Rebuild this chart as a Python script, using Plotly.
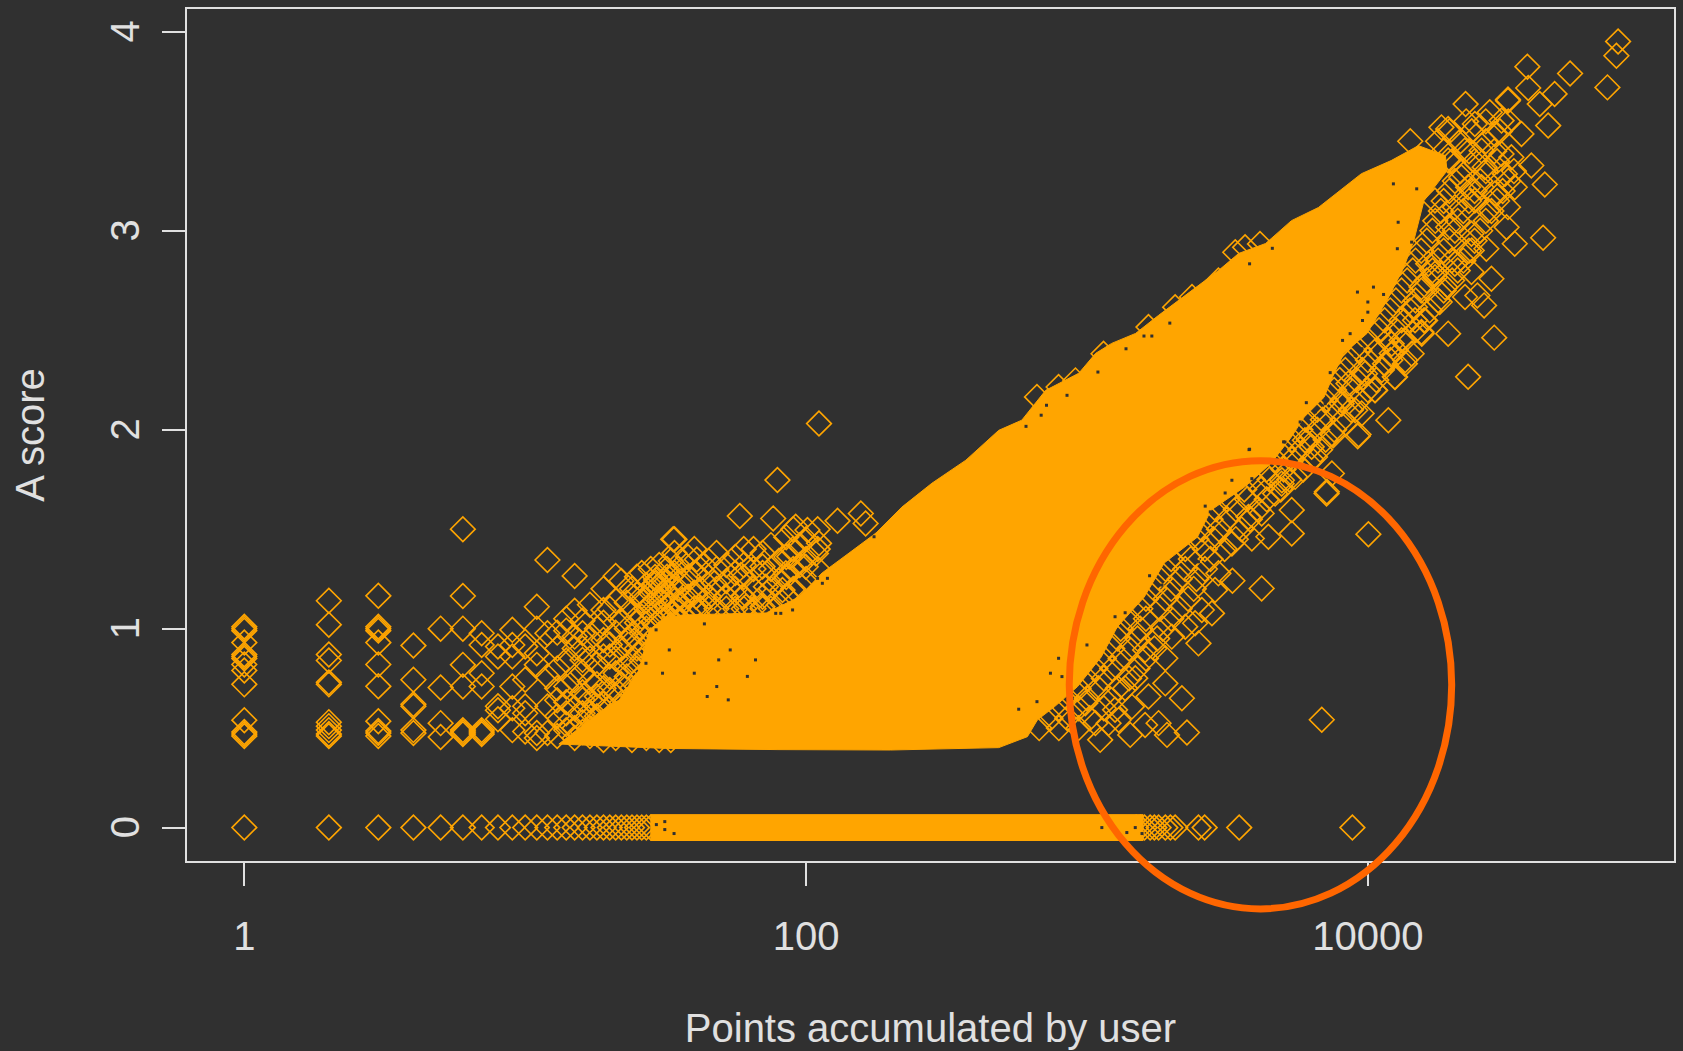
import plotly.graph_objects as go

BG = "#303030"
ORANGE = "#FFA500"
INK = "#E0E0E0"
FONT = "Liberation Sans, Arial, sans-serif"

x_title = "Points accumulated by user"
y_title = "A score"
x_ticks = [1, 100, 10000]
x_tick_labels = ["1", "100", "10000"]
y_ticks = [0, 1, 2, 3, 4]
y_tick_labels = ["0\u00a0", "1\u00a0", "2\u00a0", "3\u00a0", "4\u00a0"]

# Solid cloud outline (log10 of points, score)
cloud_log10 = [1.12, 1.264, 1.335, 1.406, 1.442, 1.495, 1.563, 1.858, 1.975, 2.057, 2.153, 2.249, 2.341, 2.448,
               2.569, 2.686, 2.768, 2.853, 2.971, 3.031, 3.088, 3.173, 3.255, 3.326, 3.387, 3.468, 3.540, 3.636,
               3.728, 3.824, 3.977, 4.083, 4.180, 4.276, 4.282, 4.200, 4.164, 4.128, 4.068, 3.997, 3.915, 3.880,
               3.844, 3.773, 3.727, 3.656, 3.560, 3.442, 3.393, 3.275, 3.204, 3.108, 3.051, 2.966, 2.884, 2.824,
               2.788, 2.686, 2.300, 1.900, 1.500, 1.12]
cloud_score = [0.42, 0.58, 0.642, 0.793, 0.994, 1.054, 1.069, 1.079, 1.159, 1.280, 1.380, 1.481, 1.611, 1.731,
               1.847, 1.997, 2.048, 2.198, 2.284, 2.384, 2.434, 2.484, 2.575, 2.650, 2.715, 2.800, 2.886, 2.936,
               3.051, 3.117, 3.287, 3.353, 3.428, 3.378, 3.302, 3.152, 2.952, 2.816, 2.650, 2.484, 2.384, 2.284,
               2.163, 2.063, 1.962, 1.832, 1.711, 1.596, 1.460, 1.330, 1.159, 1.009, 0.858, 0.708, 0.607, 0.542,
               0.457, 0.402, 0.390, 0.392, 0.398, 0.42]

# Solid part of the zero row
band_points = [28, 1585, 1585, 28, 28]
band_score = [-0.065, -0.065, 0.065, 0.065, -0.065]

# Zero-score users
zero_points = [1, 2, 3, 4, 5, 6, 7, 8, 9, 10, 11, 12, 13, 14, 15, 16, 17, 18, 19, 20, 21, 22, 23, 24, 25, 26, 27, 28]
zero_tail_log10 = [3.175, 3.19, 3.205, 3.225, 3.24, 3.255, 3.279, 3.297, 3.314, 3.397, 3.419, 3.542, 3.945]

# Low-point users: whole numbers of points
low_points = [1]*14 + [2]*11 + [3]*11 + [4]*6 + [5]*4 + [6]*8 + [7]*7 + [8]*5 + [9]*6 + [10]*5 + [11]*5 + [12]*5 \
    + [13]*2 + [14]*4 + [15]*2 + [16]*5 + [17]*2 + [18]*3 + [19]*2 + [20]*3 + [21]*2 + [22]*1 + [23]*2 + [25]*2 \
    + [26]*3 + [27]*1 + [28]*1 + [29]*3 + [32]*3 + [34]*1
low_score = [1.0, 1.01, 0.99, 0.93, 0.87, 0.86, 0.85, 0.82, 0.79, 0.72, 0.54, 0.48, 0.47, 0.46,
             1.14, 1.02, 0.87, 0.84, 0.73, 0.72, 0.53, 0.51, 0.49, 0.47, 0.46,
             1.165, 1.01, 1.0, 0.99, 0.93, 0.82, 0.71, 0.535, 0.485, 0.475, 0.46,
             0.915, 0.743, 0.62, 0.61, 0.49, 0.475,
             1.0, 0.704, 0.525, 0.455,
             1.5, 1.164, 1.0, 0.818, 0.709, 0.49, 0.48, 0.47,
             0.977, 0.918, 0.776, 0.709, 0.49, 0.48, 0.47,
             0.91, 0.86, 0.61, 0.59, 0.545,
             0.994, 0.918, 0.86, 0.709, 0.6, 0.49,
             0.91, 0.743, 0.61, 0.575, 0.483,
             1.11, 1.0, 0.876, 0.818, 0.475,
             1.345, 0.977, 0.76, 0.609, 0.475,
             0.9, 0.70,
             0.99, 0.709, 0.575, 0.49,
             1.265, 0.9,
             0.977, 0.843, 0.642, 0.575, 0.48,
             0.734, 0.85,
             0.659, 0.609, 0.542,
             1.094, 0.943,
             0.86, 0.692, 0.559,
             1.265, 0.776,
             0.609,
             0.943, 0.81,
             1.261, 0.709,
             1.161, 0.977, 0.642,
             0.91,
             1.044,
             1.228, 0.843, 0.709,
             1.261, 1.11, 0.81,
             1.449]
floor_points = [11, 13, 15, 17, 19, 21, 24, 27, 30, 33]
floor_score = [0.45, 0.46, 0.45, 0.46, 0.44, 0.45, 0.44, 0.45, 0.44, 0.44]

# Crowded middle of the low range, by whole number of points
mid_points = [13]*4 + [14]*4 + [15]*5 + [16]*5 + [17]*5 + [18]*5 + [19]*6 + [20]*5 + [21]*5 + [22]*6 + [23]*5 + [24]*7 \
    + [25]*6 + [26]*6 + [27]*6 + [28]*6 + [29]*6 + [30]*6 + [31]*5 + [32]*5 + [33]*5 + [34]*5 + [35]*4 + [36]*4 \
    + [38]*4 + [40]*4 + [42]*3 + [45]*4 + [48]*4 + [52]*4 + [56]*4 + [60]*5 + [65]*4 + [70]*4 + [75]*4 + [80]*3 \
    + [85]*4 + [90]*4 + [95]*3 + [100]*3 + [110]*3
mid_score = [0.56, 0.64, 0.80, 0.98,
             0.52, 0.63, 0.84, 1.05,
             0.50, 0.60, 0.74, 0.96, 1.09,
             0.53, 0.68, 0.78, 0.90, 1.04,
             0.50, 0.58, 0.64, 0.95, 1.12,
             0.47, 0.56, 0.72, 0.82, 1.0,
             0.48, 0.62, 0.70, 0.86, 1.03, 1.2,
             0.50, 0.60, 0.76, 0.92, 1.1,
             0.52, 0.66, 0.85, 0.98, 1.14,
             0.48, 0.58, 0.72, 0.90, 1.04, 1.24,
             0.53, 0.64, 0.76, 1.0, 1.13,
             0.50, 0.60, 0.70, 0.84, 0.96, 1.08, 1.2,
             0.54, 0.64, 0.80, 0.90, 1.03, 1.17,
             0.58, 0.72, 0.84, 1.06, 1.14, 1.28,
             0.62, 0.76, 0.87, 1.0, 1.1, 1.22,
             0.68, 0.80, 0.94, 1.12, 1.18, 1.3,
             0.60, 0.74, 0.9, 1.02, 1.14, 1.26,
             0.72, 0.84, 0.96, 1.08, 1.2, 1.32,
             0.80, 0.92, 1.04, 1.16, 1.24,
             0.86, 0.98, 1.06, 1.18, 1.3,
             0.9, 1.02, 1.12, 1.22, 1.34,
             0.94, 1.06, 1.14, 1.28, 1.38,
             1.0, 1.1, 1.2, 1.3,
             1.04, 1.12, 1.24, 1.34,
             1.08, 1.16, 1.26, 1.36,
             1.1, 1.18, 1.28, 1.4,
             1.1, 1.2, 1.3,
             1.1, 1.16, 1.26, 1.34,
             1.1, 1.2, 1.3, 1.38,
             1.1, 1.16, 1.24, 1.32,
             1.1, 1.2, 1.28, 1.36,
             1.1, 1.16, 1.26, 1.32, 1.4,
             1.1, 1.2, 1.3, 1.4,
             1.1, 1.16, 1.28, 1.38,
             1.1, 1.2, 1.3, 1.42,
             1.12, 1.24, 1.34,
             1.16, 1.26, 1.36, 1.46,
             1.2, 1.3, 1.4, 1.5,
             1.22, 1.32, 1.42,
             1.25, 1.35, 1.45,
             1.3, 1.4, 1.5]

# Users around the edges of the cloud (log10 of points, score)
edge_log10 = [2.046, 1.898, 1.764, 1.883, 1.527, 1.611, 1.519, 1.673, 1.608, 1.768, 1.845, 1.963, 2.005, 2.112,
              2.195, 2.046, 1.94, 2.035, 1.928, 1.999, 1.857, 1.916, 1.774, 1.715, 1.655, 1.62, 1.786, 1.845,
              1.466, 1.478, 1.525, 1.56, 2.212,
              2.822, 3.059, 3.219, 3.314, 3.374, 3.528, 3.563, 3.616, 3.468, 2.959, 2.899]
edge_score = [2.031, 1.747, 1.566, 1.554, 1.449, 1.348, 1.261, 1.228, 1.161, 1.27, 1.312, 1.512, 1.496, 1.542,
              1.579, 1.429, 1.362, 1.378, 1.278, 1.311, 1.211, 1.194, 1.161, 1.161, 1.161, 1.11, 1.11, 1.11,
              1.245, 1.144, 1.077, 1.144, 1.529,
              2.165, 2.382, 2.516, 2.616, 2.667, 2.892, 2.917, 2.934, 2.75, 2.248, 2.215]
top_log10 = [4.891, 4.885, 4.853, 4.720, 4.568, 4.665, 4.612, 4.499, 4.499, 4.571, 4.642, 4.348, 4.434, 4.151,
             4.286, 4.381, 4.476, 4.547, 4.582, 4.63, 4.523, 4.488, 4.405, 4.345, 4.452, 4.333, 4.405, 4.357,
             4.624, 4.523, 4.494, 4.422, 4.428, 4.369, 4.31, 4.44, 4.369, 4.39, 4.414, 4.256, 4.286, 4.191,
             4.45, 4.357, 4.168, 4.239, 4.286, 4.215, 4.191, 4.096, 4.132, 4.025, 4.073, 3.978, 4.12, 4.085,
             4.239, 4.31, 4.286, 4.262, 4.416, 4.476, 4.511, 4.381, 4.452, 4.499]
top_score = [3.952, 3.88, 3.721, 3.791, 3.825, 3.688, 3.637, 3.654, 3.66, 3.718, 3.529, 3.637, 3.596, 3.450,
             3.512, 3.537, 3.554, 3.487, 3.328, 3.233, 3.219, 3.286, 3.403, 3.403, 3.487, 3.269, 3.219, 3.219,
             2.965, 2.935, 3.018, 2.910, 3.102, 2.985, 2.834, 2.759, 2.793, 2.675, 2.625, 2.642, 2.483, 2.491,
             2.463, 2.266, 2.55, 2.767, 3.018, 2.834, 2.717, 2.266, 2.332, 2.199, 2.048, 2.082, 2.45, 2.383,
             3.152, 3.119, 3.353, 3.52, 3.32, 3.386, 3.37, 3.152, 3.186, 3.119]
lower_log10 = [4.002, 3.853, 3.964, 3.877, 3.729, 3.729, 3.646, 3.587, 3.67, 3.622, 3.518, 3.445, 3.397, 3.279,
               3.279, 3.338, 3.356, 3.285, 3.255, 3.207, 3.154, 3.836, 3.047, 3.136, 3.172, 3.207, 3.077, 3.113,
               3.385, 3.456, 3.409, 3.35, 3.302, 3.1, 2.994, 3.03, 3.575, 3.468, 3.776, 3.812, 3.693, 3.622, 3.516,
               3.219, 3.16,
               3.967, 3.874, 4.026, 3.854, 4.097, 4.133, 4.192, 4.085, 3.907, 3.955, 3.80, 3.741, 3.872, 3.694,
               3.931, 3.99, 4.061, 4.156, 4.204, 4.168, 4.239, 4.299, 4.37, 4.346, 4.275]
lower_score = [1.475, 1.679, 1.967, 1.972, 1.478, 1.596, 1.462, 1.453, 1.679, 1.202, 1.241, 1.077, 0.926, 0.851,
               0.725, 0.65, 0.478, 0.466, 0.525, 0.516, 0.466, 0.542, 0.441, 0.70, 0.751, 0.893, 0.525, 0.541,
               1.027, 1.194, 1.094, 1.01, 0.96, 0.592, 0.625, 0.525, 1.562, 1.278, 1.947, 1.863, 1.729, 1.579, 1.428,
               0.659, 0.608,
               1.976, 1.977, 2.198, 1.688, 2.265, 2.349, 2.483, 2.432, 2.131, 2.098, 1.914, 1.763, 1.78, 1.746,
               2.232, 2.282, 2.332, 2.382, 2.549, 2.616, 2.784, 2.851, 2.901, 2.667, 2.717]

# Crowded fringe just outside the solid cloud: three readings per score level
fringe_score = [0.50]*3 + [0.55]*3 + [0.60]*3 + [0.65]*3 + [0.70]*3 + [0.75]*3 + [0.80]*3 + [0.85]*3 + [0.90]*3 \
    + [0.95]*3 + [1.00]*3 + [1.05]*3 + [1.10]*3 + [1.15]*3 + [1.20]*3 + [1.25]*3 + [1.30]*3 + [1.35]*3 + [1.40]*3 \
    + [1.45]*3 + [1.50]*3 + [1.55]*3 + [1.60]*3 + [1.65]*3 + [1.70]*3 + [1.75]*3 + [1.80]*3 + [1.85]*3 + [1.90]*3 \
    + [1.95]*3 + [2.00]*3 + [2.05]*3 + [2.10]*3 + [2.15]*3 + [2.20]*3 + [2.25]*3 + [2.30]*3 + [2.35]*3 + [2.40]*3 \
    + [2.45]*3 + [2.50]*3 + [2.55]*3 + [2.60]*3 + [2.65]*3 + [2.70]*3 + [2.75]*3 + [2.80]*3 + [2.85]*3 + [2.90]*3 \
    + [2.95]*3 + [3.00]*3 + [3.05]*3 + [3.10]*3 + [3.15]*3 + [3.20]*3 + [3.25]*3 + [3.30]*3 + [3.35]*3 + [3.40]*3 \
    + [3.45]*3 + [3.50]*3 + [3.55]*3
fringe_log10 = [2.83, 2.90, 2.97,
                2.87, 2.93, 3.01,
                2.90, 2.97, 3.06,
                2.93, 3.00, 3.08,
                2.97, 3.04, 3.11,
                3.00, 3.06, 3.15,
                3.03, 3.09, 3.18,
                3.06, 3.12, 3.21,
                3.09, 3.15, 3.24,
                3.11, 3.18, 3.25,
                3.12, 3.19, 3.27,
                3.15, 3.21, 3.30,
                3.19, 3.26, 3.33,
                3.21, 3.28, 3.36,
                3.24, 3.30, 3.38,
                3.26, 3.33, 3.39,
                3.28, 3.35, 3.42,
                3.30, 3.37, 3.44,
                3.35, 3.42, 3.49,
                3.39, 3.45, 3.53,
                3.41, 3.47, 3.55,
                3.44, 3.50, 3.58,
                3.46, 3.53, 3.61,
                3.50, 3.57, 3.64,
                3.56, 3.62, 3.69,
                3.59, 3.65, 3.72,
                3.64, 3.70, 3.77,
                3.67, 3.73, 3.80,
                3.70, 3.76, 3.83,
                3.73, 3.79, 3.85,
                3.76, 3.82, 3.88,
                3.78, 3.84, 3.91,
                3.82, 3.88, 3.94,
                3.85, 3.91, 3.97,
                3.88, 3.94, 4.00,
                3.90, 3.96, 4.03,
                3.92, 3.98, 4.05,
                3.94, 4.00, 4.08,
                3.97, 4.03, 4.10,
                4.00, 4.07, 4.13,
                4.04, 4.10, 4.17,
                4.06, 4.12, 4.20,
                4.08, 4.15, 4.22,
                4.10, 4.17, 4.25,
                4.12, 4.19, 4.27,
                4.14, 4.21, 4.30,
                4.16, 4.23, 4.32,
                4.17, 4.25, 4.34,
                4.19, 4.27, 4.36,
                4.21, 4.29, 4.38,
                4.23, 4.31, 4.40,
                4.24, 4.32, 4.42,
                4.26, 4.34, 4.44,
                4.27, 4.36, 4.46,
                4.29, 4.38, 4.48,
                4.31, 4.40, 4.50,
                4.33, 4.42, 4.52,
                4.30, 4.38, 4.46,
                4.27, 4.36, 4.45,
                4.25, 4.33, 4.42,
                4.29, 4.37, 4.47,
                4.35, 4.42, 4.50]

# Small gaps left in the dense cloud
gap_log10 = [3.0, 2.899, 3.1, 3.136, 3.223, 3.267, 3.421, 3.439, 3.492, 3.495, 3.516, 3.587, 3.577, 3.705, 3.314,
             3.397, 2.87, 2.822, 2.757, 2.911, 3.963, 4.02, 4.056, 4.0, 3.981, 4.0, 3.91, 3.937, 3.781, 3.866, 3.759,
             3.579, 3.955, 3.979, 3.848, 3.813, 3.7, 2.783, 2.837, 2.856, 2.929, 3.039, 3.139, 3.203, 3.231, 3.295,
             3.579, 3.66, 2.242, 1.638, 2.076, 2.041, 2.058, 1.892, 1.91, 1.952, 4.108, 4.156, 4.174, 4.091, 4.105,
             1.73, 1.689, 1.602, 1.682, 1.791, 1.82, 1.723, 1.648, 1.489, 1.43, 1.466, 1.513,
             3.053, 3.142, 3.172, 3.196, 1.467, 1.497, 1.497, 1.53]
gap_score = [0.918, 0.851, 1.06, 1.08, 1.266, 1.219, 1.616, 1.587, 1.682, 1.632, 1.746, 1.754, 1.9, 1.938, 1.345,
             1.336, 0.776, 0.633, 0.595, 0.759, 2.692, 2.717, 2.68, 2.642, 2.549, 2.591, 2.449, 2.483, 2.136, 2.287, 2.039,
             1.902, 2.374, 2.407, 2.131, 2.09, 1.939, 2.017, 2.073, 2.123, 2.173, 2.29, 2.407, 2.471, 2.471, 2.536,
             2.834, 2.912, 1.462, 1.024, 1.253, 1.253, 1.228, 1.077, 1.077, 1.094, 3.043, 2.943, 3.211, 3.236, 2.91,
             0.893, 0.843, 0.776, 0.709, 0.76, 0.843, 0.642, 0.659, 0.776, 0.826, 0.994, 0.893,
             0.0, -0.025, 0.0, -0.03, 0.015, 0.03, -0.01, -0.03]


def unlog(values):
    return [10 ** v for v in values]


def diamonds(x, y):
    return go.Scatter(x=x, y=y, mode="markers", hoverinfo="skip", showlegend=False,
                      marker=dict(symbol="diamond-open", size=19, color=ORANGE, line=dict(color=ORANGE, width=1.6)))


def solid(x, y):
    return go.Scatter(x=x, y=y, mode="lines", fill="toself", fillcolor=ORANGE, hoverinfo="skip", showlegend=False,
                      line=dict(color=ORANGE, width=1))


fig = go.Figure()
fig.add_trace(diamonds(zero_points + unlog(zero_tail_log10), [0] * (len(zero_points) + len(zero_tail_log10))))
fig.add_trace(diamonds(low_points + floor_points + mid_points, low_score + floor_score + mid_score))
fig.add_trace(diamonds(unlog(edge_log10), edge_score))
fig.add_trace(diamonds(unlog(top_log10), top_score))
fig.add_trace(diamonds(unlog(lower_log10), lower_score))
fig.add_trace(diamonds(unlog(fringe_log10), fringe_score))
fig.add_trace(solid(unlog(cloud_log10), cloud_score))
fig.add_trace(solid(band_points, band_score))
fig.add_trace(go.Scatter(x=unlog(gap_log10), y=gap_score, mode="markers", hoverinfo="skip", showlegend=False,
                         marker=dict(symbol="square", size=3, color=BG)))

axis_style = dict(showgrid=False, zeroline=False, showline=True, mirror=True, linecolor=INK, linewidth=2,
                  ticks="outside", ticklen=23, tickwidth=2, tickcolor=INK,
                  tickfont=dict(family=FONT, size=40, color=INK))

fig.update_layout(
    width=1683, height=1051, paper_bgcolor=BG, plot_bgcolor=BG, showlegend=False,
    margin=dict(l=187, r=7, t=8, b=189.5, pad=0),
    xaxis=dict(type="log", range=[-0.204, 5.09], tickmode="array", tickvals=x_ticks, ticktext=x_tick_labels,
               ticklabelstandoff=16, title=dict(text=x_title, standoff=57, font=dict(family=FONT, size=40, color=INK)),
               **axis_style),
    yaxis=dict(range=[-0.168, 4.115], tickmode="array", tickvals=y_ticks, ticktext=y_tick_labels, tickangle=-90,
               ticklabelstandoff=7, title=dict(text=y_title, standoff=46, font=dict(family=FONT, size=40, color=INK)),
               **axis_style),
    shapes=[dict(type="circle", xref="paper", yref="paper", x0=0.5933, x1=0.8505, y0=-0.0562, y1=0.4699,
                 line=dict(color="#FF6600", width=7), layer="above")],
)

fig.write_html("out.html", config=dict(displayModeBar=False),
               post_script="document.body.style.margin='0';document.body.style.overflow='hidden';")
